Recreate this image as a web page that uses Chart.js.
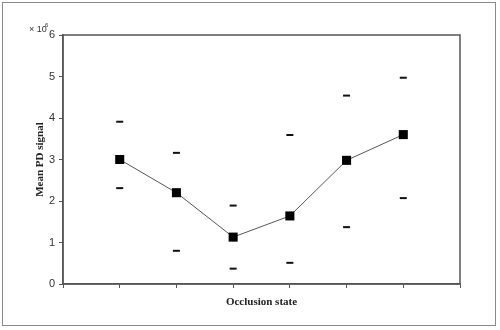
<!DOCTYPE html>
<html lang="en">
<head>
    <meta charset="UTF-8">
    <title>Mean PD signal by occlusion state</title>
    <script src="https://cdn.jsdelivr.net/npm/chart.js"></script>
    <style>
        body {
            margin: 0;
            background: white;
        }
        .wrap {
            position: relative;
            width: 500px;
            height: 330px;
        }
        .frame {
            position: absolute;
            left: 2px;
            top: 2px;
            width: 492px;
            height: 322px;
            border: 1.5px solid #8a8a8a;
            pointer-events: none;
        }
    </style>
</head>
<body>
<div class="wrap">
    <canvas id="pdChart" width="500" height="330"></canvas>
    <div class="frame"></div>
</div>

<script>
    // positions of the occlusion states along the x axis
    const states = [1, 2, 3, 4, 5, 6];
    // mean PD signal (x 10^6)
    const meanSignal = [3.0, 2.2, 1.13, 1.64, 2.98, 3.6];
    // upper and lower bars (x 10^6)
    const upperBar = [3.91, 3.16, 1.89, 3.59, 4.54, 4.97];
    const lowerBar = [2.31, 0.8, 0.37, 0.51, 1.37, 2.07];
    const yTicks = [0, 1, 2, 3, 4, 5, 6];

    const toPoints = vals => states.map((x, i) => ({ x: x, y: vals[i] }));

    // frame of the plot, axis titles and the x10^6 note
    const decorations = {
        id: 'decorations',
        afterDraw(chart) {
            const c = chart.ctx;
            const a = chart.chartArea;
            c.save();
            c.strokeStyle = '#555';
            c.lineWidth = 1.5;
            c.strokeRect(a.left, a.top, a.right - a.left, a.bottom - a.top);

            c.fillStyle = '#222';
            c.font = 'bold 11px "Liberation Serif"';
            c.textAlign = 'center';
            c.textBaseline = 'middle';
            c.fillText('Occlusion state', (a.left + a.right) / 2, 302);

            c.translate(40, (a.top + a.bottom) / 2);
            c.rotate(-Math.PI / 2);
            c.fillText('Mean PD signal', 0, 0);
            c.restore();

            c.save();
            c.fillStyle = '#333';
            c.font = '9px "Liberation Sans"';
            c.textBaseline = 'alphabetic';
            c.textAlign = 'left';
            c.fillText('\u00d7 10', 29, 32);
            c.font = '6px "Liberation Sans"';
            c.fillText('6', 45, 27);
            c.restore();
        }
    };

    const ctx = document.getElementById('pdChart').getContext('2d');
    new Chart(ctx, {
        type: 'scatter',
        data: {
            datasets: [
                {
                    label: 'Mean',
                    data: toPoints(meanSignal),
                    showLine: true,
                    borderColor: '#555',
                    borderWidth: 1,
                    pointStyle: 'rect',
                    pointRadius: 6.4,
                    pointBackgroundColor: '#000',
                    pointBorderColor: '#000',
                    pointBorderWidth: 0
                },
                {
                    label: 'Upper',
                    data: toPoints(upperBar),
                    pointStyle: 'line',
                    pointRadius: 3.5,
                    pointBorderWidth: 2,
                    pointBorderColor: '#111'
                },
                {
                    label: 'Lower',
                    data: toPoints(lowerBar),
                    pointStyle: 'line',
                    pointRadius: 3.5,
                    pointBorderWidth: 2,
                    pointBorderColor: '#111'
                }
            ]
        },
        options: {
            responsive: false,
            animation: false,
            layout: {
                padding: { left: 0, top: 35, right: 40, bottom: 0 }
            },
            plugins: {
                legend: { display: false },
                tooltip: { enabled: false }
            },
            scales: {
                x: {
                    type: 'linear',
                    min: 0,
                    max: 7,
                    afterFit: s => { s.height = 46; },
                    afterBuildTicks: s => {
                        s.ticks = [0, 1, 2, 3, 4, 5, 6, 7].map(v => ({ value: v }));
                    },
                    ticks: {
                        callback: () => ''
                    },
                    grid: {
                        drawOnChartArea: false,
                        drawTicks: true,
                        tickLength: 4,
                        color: '#555'
                    },
                    border: { color: '#555', width: 1.5 }
                },
                y: {
                    min: 0,
                    max: 6,
                    afterFit: s => { s.width = 63; },
                    afterBuildTicks: s => {
                        s.ticks = yTicks.map(v => ({ value: v }));
                    },
                    ticks: {
                        color: '#333',
                        padding: 4,
                        font: { family: '"Liberation Sans"', size: 11 }
                    },
                    grid: {
                        drawOnChartArea: false,
                        drawTicks: true,
                        tickLength: 4,
                        color: '#555'
                    },
                    border: { color: '#555', width: 1.5 }
                }
            }
        },
        plugins: [decorations]
    });
</script>
</body>
</html>
